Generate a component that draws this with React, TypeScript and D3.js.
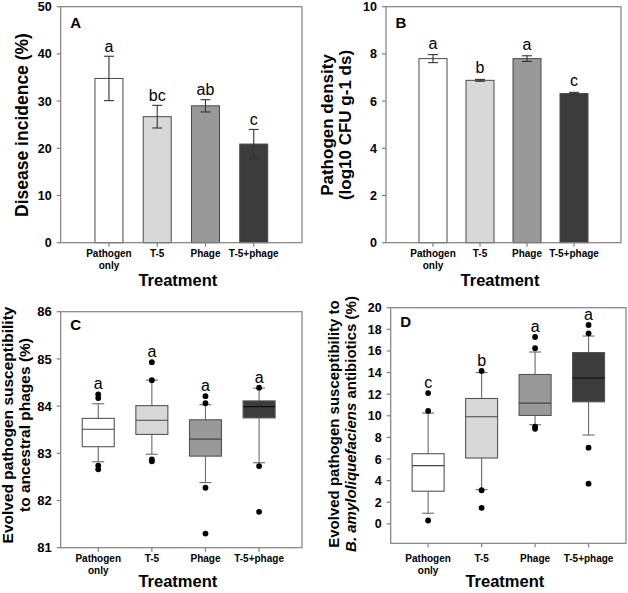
import React from "react";
import * as d3 from "d3";

const categories = ["Pathogen only", "T-5", "Phage", "T-5+phage"];
const fills = ["#ffffff", "#d8d8d8", "#999999", "#3c3c3c"];

// Panel A
const incidenceMean = [34.8, 26.7, 29.0, 20.9];
const incidenceErr = [4.7, 2.4, 1.3, 3.1];
const incidenceLetters = ["a", "bc", "ab", "c"];
const incidenceTicks = [0, 10, 20, 30, 40, 50];

// Panel B
const densityMean = [7.8, 6.88, 7.8, 6.32];
const densityErr = [0.17, 0.04, 0.12, 0.05];
const densityLetters = ["a", "b", "a", "c"];
const densityTicks = [0, 2, 4, 6, 8, 10];

// Panel C: [whiskerLow, q1, median, q3, whiskerHigh]
const phageBoxes = [
  [82.82, 83.14, 83.51, 83.74, 84.05],
  [82.98, 83.4, 83.7, 84.01, 84.55],
  [82.38, 82.94, 83.3, 83.71, 84.03],
  [82.8, 83.75, 83.99, 84.11, 84.38],
];
const phageOutliers = [
  [84.25, 84.17, 82.74, 82.66],
  [84.93, 84.55, 82.87, 82.83],
  [84.21, 84.06, 82.27, 81.3],
  [84.39, 82.73, 81.76],
];
const phageLetters = ["a", "a", "a", "a"];
const phageTicks = [81, 82, 83, 84, 85, 86];

// Panel D
const abBoxes = [
  [0.98, 3.02, 5.38, 6.49, 10.25],
  [3.17, 6.09, 9.91, 11.6, 14.0],
  [9.17, 10.03, 11.17, 13.82, 15.9],
  [8.22, 11.29, 13.48, 15.85, 17.38],
];
const abOutliers = [
  [12.1, 10.45, 0.31],
  [14.15, 3.11, 1.48],
  [17.29, 16.25, 9.0, 8.8],
  [18.4, 17.63, 7.05, 3.72],
];
const abLetters = ["c", "b", "a", "a"];
const abTicks = [0, 2, 4, 6, 8, 10, 12, 14, 16, 18, 20];

const FONT = "Arial, 'Liberation Sans', Helvetica, sans-serif";
const FRAME = "#808080";

type Frame = {
  left: number;
  right: number;
  top: number;
  bottom: number;
  xDomain: [number, number];
  yDomain: [number, number];
  ticks: number[];
  tickFont: number;
  labelY: number;
  treatY: number;
  panel: string;
  panelY: number;
};

function Axes({ f, x, y, children }: { f: Frame; x: any; y: any; children?: any }) {
  const cx = (f.left + f.right) / 2 - 3.5;
  return (
    <g fontFamily={FONT}>
      {children}
      <rect x={f.left} y={f.top} width={f.right - f.left} height={f.bottom - f.top} fill="none" stroke={FRAME} strokeWidth={1.2} />
      {f.ticks.map((t) => (
        <g key={t}>
          <line x1={f.left - 4} x2={f.left} y1={y(t)} y2={y(t)} stroke={FRAME} strokeWidth={1.2} />
          <text x={f.left - 9} y={y(t)} dy="0.36em" textAnchor="end" fontWeight="bold" fontSize={f.tickFont} fill="#000">
            {t}
          </text>
        </g>
      ))}
      {categories.map((c, i) => (
        <g key={c}>
          <line x1={x(i + 1)} x2={x(i + 1)} y1={f.bottom} y2={f.bottom + 4} stroke={FRAME} strokeWidth={1.2} />
          {c.split(" ").map((w, j) => (
            <text key={j} x={x(i + 1)} y={f.labelY + j * 11.8} textAnchor="middle" fontWeight="bold" fontSize={10} fill="#000">
              {w}
            </text>
          ))}
        </g>
      ))}
      <text x={cx} y={f.treatY} textAnchor="middle" fontWeight="bold" fontSize={16.5} fill="#000">
        Treatment
      </text>
      <text x={f.left + 9.5} y={f.panelY} fontWeight="bold" fontSize={15} fill="#000">
        {f.panel}
      </text>
    </g>
  );
}

function BarPanel({ f, means, errs, letters, gap }: { f: Frame; means: number[]; errs: number[]; letters: string[]; gap: number }) {
  const x = d3.scaleLinear().domain(f.xDomain).range([f.left, f.right]);
  const y = d3.scaleLinear().domain(f.yDomain).range([f.bottom, f.top]);
  const bw = 28;
  return (
    <Axes f={f} x={x} y={y}>
      {means.map((m, i) => {
        const cx = x(i + 1);
        const hi = y(m + errs[i]);
        const lo = y(m - errs[i]);
        return (
          <g key={i}>
            <rect x={cx - bw / 2} y={y(m)} width={bw} height={y(f.yDomain[0]) - y(m)} fill={fills[i]} stroke="#4a4a4a" strokeWidth={1} />
            <line x1={cx} x2={cx} y1={hi} y2={lo} stroke="#333" strokeWidth={1.1} />
            <line x1={cx - 5} x2={cx + 5} y1={hi} y2={hi} stroke="#333" strokeWidth={1.1} />
            <line x1={cx - 5} x2={cx + 5} y1={lo} y2={lo} stroke="#333" strokeWidth={1.1} />
            <text x={cx} y={hi - gap} textAnchor="middle" fontSize={16} fill="#000">
              {letters[i]}
            </text>
          </g>
        );
      })}
    </Axes>
  );
}

function BoxPanel({ f, boxes, outliers, letters }: { f: Frame; boxes: number[][]; outliers: number[][]; letters: string[] }) {
  const x = d3.scaleLinear().domain(f.xDomain).range([f.left, f.right]);
  const y = d3.scaleLinear().domain(f.yDomain).range([f.bottom, f.top]);
  const bw = 32;
  const cw = 6;
  return (
    <Axes f={f} x={x} y={y}>
      {boxes.map((b, i) => {
        const cx = x(i + 1);
        const [wl, q1, md, q3, wh] = b;
        const top = Math.max(wh, ...outliers[i]);
        return (
          <g key={i}>
            <line x1={cx} x2={cx} y1={y(q3)} y2={y(wh)} stroke="#6a6a6a" strokeWidth={1.1} />
            <line x1={cx} x2={cx} y1={y(q1)} y2={y(wl)} stroke="#6a6a6a" strokeWidth={1.1} />
            <line x1={cx - cw} x2={cx + cw} y1={y(wh)} y2={y(wh)} stroke="#6a6a6a" strokeWidth={1.1} />
            <line x1={cx - cw} x2={cx + cw} y1={y(wl)} y2={y(wl)} stroke="#6a6a6a" strokeWidth={1.1} />
            <rect x={cx - bw / 2} y={y(q3)} width={bw} height={y(q1) - y(q3)} fill={fills[i]} stroke="#555" strokeWidth={1.1} />
            <line x1={cx - bw / 2} x2={cx + bw / 2} y1={y(md)} y2={y(md)} stroke={i === 3 ? "#111" : "#444"} strokeWidth={1.2} />
            {outliers[i].map((o, k) => (
              <circle key={k} cx={cx} cy={y(o)} r={2.9} fill="#000" />
            ))}
            <text x={cx} y={y(top) - 5} textAnchor="middle" fontSize={16} fill="#000">
              {letters[i]}
            </text>
          </g>
        );
      })}
    </Axes>
  );
}

function VTitle({ x, y, size, children }: { x: number; y: number; size: number; children: any }) {
  return (
    <text transform={`translate(${x},${y}) rotate(-90)`} textAnchor="middle" fontFamily={FONT} fontWeight="bold" fontSize={size} fill="#000">
      {children}
    </text>
  );
}

export default function App() {
  const fA: Frame = { left: 60.7, right: 302, top: 6.7, bottom: 242.7, xDomain: [0, 5], yDomain: [0, 50], ticks: incidenceTicks, tickFont: 12.5, labelY: 257.3, treatY: 285.5, panel: "A", panelY: 28.3 };
  const fB: Frame = { left: 386, right: 621, top: 6.7, bottom: 242.7, xDomain: [0, 5], yDomain: [0, 10], ticks: densityTicks, tickFont: 12.5, labelY: 257.3, treatY: 285.5, panel: "B", panelY: 28.3 };
  const fC: Frame = { left: 60.7, right: 302, top: 311.7, bottom: 547.7, xDomain: [0.3, 4.8], yDomain: [81, 86], ticks: phageTicks, tickFont: 13, labelY: 561.7, treatY: 586.5, panel: "C", panelY: 330 };
  const fD: Frame = { left: 390.7, right: 626, top: 307.7, bottom: 543.3, xDomain: [0.3, 4.7], yDomain: [-1.8, 20], ticks: abTicks, tickFont: 12.5, labelY: 562, treatY: 587, panel: "D", panelY: 327.3 };
  return (
    <svg width={628} height={593} style={{ position: "absolute", left: 0, top: 0, background: "#fff" }}>
      <rect width={628} height={593} fill="#fff" />
      <BarPanel f={fA} means={incidenceMean} errs={incidenceErr} letters={incidenceLetters} gap={4.5} />
      <BarPanel f={fB} means={densityMean} errs={densityErr} letters={densityLetters} gap={6} />
      <BoxPanel f={fC} boxes={phageBoxes} outliers={phageOutliers} letters={phageLetters} />
      <BoxPanel f={fD} boxes={abBoxes} outliers={abOutliers} letters={abLetters} />
      <VTitle x={27.5} y={125} size={17.5}>Disease incidence (%)</VTitle>
      <VTitle x={333} y={125} size={17}>Pathogen density</VTitle>
      <VTitle x={350.5} y={125} size={17}>(log10 CFU g-1 ds)</VTitle>
      <VTitle x={13} y={425} size={15.5}>Evolved pathogen susceptibility</VTitle>
      <VTitle x={29.6} y={425} size={15.5}>to ancestral phages (%)</VTitle>
      <VTitle x={339} y={424} size={15}>Evolved pathogen susceptibility to</VTitle>
      <VTitle x={356} y={424} size={15}>
        <tspan fontStyle="italic">B. amyloliquefaciens</tspan> antibiotics (%)
      </VTitle>
    </svg>
  );
}
